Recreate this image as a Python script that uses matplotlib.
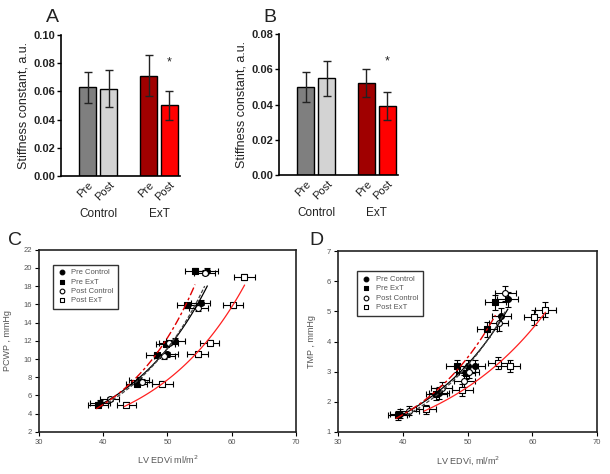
import numpy as np
import matplotlib
matplotlib.use('Agg')
import matplotlib.pyplot as plt

plt.rcParams['font.family'] = ['Liberation Sans', 'DejaVu Sans']

# ---------------- data ----------------
bar_groups = ['Control', 'ExT']
bar_phases = ['Pre', 'Post', 'Pre', 'Post']
bar_colors = ['#7f7f7f', '#d3d3d3', '#a00000', '#ff0000']

a_means = [0.063, 0.062, 0.071, 0.050]
a_errs = [0.011, 0.013, 0.0145, 0.0105]
b_means = [0.050, 0.055, 0.052, 0.039]
b_errs = [0.0085, 0.010, 0.008, 0.008]

series_names = ['Pre Control', 'Pre ExT', 'Post Control', 'Post ExT']

# Panel C (PCWP)
c_pre_ctrl_x = [39.5, 45.6, 50.0, 51.2, 55.2, 56.2]
c_pre_ctrl_y = [5.2, 7.7, 10.5, 12.0, 16.2, 19.7]
c_pre_ext_x = [39.2, 45.2, 48.3, 49.7, 53.0, 54.3]
c_pre_ext_y = [5.0, 7.3, 10.4, 11.7, 15.9, 19.7]
c_post_ctrl_x = [41.0, 46.0, 49.5, 50.2, 54.8, 55.8]
c_post_ctrl_y = [5.6, 7.5, 10.3, 11.8, 15.6, 19.5]
c_post_ext_x = [43.6, 49.2, 54.7, 56.6, 60.2, 62.0]
c_post_ext_y = [5.0, 7.3, 10.5, 11.8, 15.9, 19.0]
c_xerr = [1.5, 1.6, 1.6, 1.5, 1.5, 1.6]
c_yerr = [0.25, 0.3, 0.3, 0.3, 0.3, 0.3]

# Panel D (TMP)
d_pre_ctrl_x = [39.5, 45.6, 50.0, 51.2, 55.2, 56.2]
d_pre_ctrl_y = [1.6, 2.3, 3.2, 3.2, 4.85, 5.4]
d_pre_ext_x = [39.2, 45.2, 48.3, 49.7, 53.0, 54.3]
d_pre_ext_y = [1.55, 2.25, 3.2, 2.95, 4.4, 5.3]
d_post_ctrl_x = [41.0, 46.0, 49.5, 50.2, 54.8, 55.8]
d_post_ctrl_y = [1.7, 2.45, 2.7, 3.0, 4.6, 5.6]
d_post_ext_x = [43.6, 49.2, 54.7, 56.6, 60.2, 62.0]
d_post_ext_y = [1.75, 2.4, 3.3, 3.2, 4.8, 5.05]
d_xerr = [1.5, 1.6, 1.6, 1.5, 1.5, 1.6]
d_yerr = [0.15, 0.2, 0.2, 0.2, 0.25, 0.25]

# ---------------- figure ----------------
fig = plt.figure(figsize=(6.1, 4.74), dpi=100)

bar_pos = [1.42, 2.54, 4.64, 5.74]
bar_w = 0.9


def bar_panel(rect, means, errs, ymax, yticks, star_y, letter, letter_xy):
    ax = fig.add_axes(rect)
    ax.bar(bar_pos, means, width=bar_w, color=bar_colors, edgecolor='black',
           linewidth=1.0, zorder=2)
    ax.errorbar(bar_pos, means, yerr=errs, fmt='none', ecolor='#222222',
                elinewidth=1.0, capsize=3, capthick=1.0, zorder=3)
    ax.set_xlim(0, 6.3)
    ax.set_ylim(0, ymax)
    ax.set_yticks(yticks)
    ax.set_yticklabels([f'{t:.2f}' for t in yticks], fontsize=8,
                       fontweight='bold', color='#222222')
    ax.spines['top'].set_visible(False)
    ax.spines['right'].set_visible(False)
    ax.spines['left'].set_linewidth(1.2)
    ax.spines['bottom'].set_linewidth(1.2)
    ax.tick_params(axis='y', length=3, width=1, pad=1)
    ax.set_xticks(bar_pos)
    ax.set_xticklabels(bar_phases, rotation=45, ha='right',
                       rotation_mode='anchor', fontsize=8, color='#222222')
    ax.tick_params(axis='x', length=0, pad=3)
    ax.set_ylabel('Stiffness constant, a.u.', fontsize=9, color='#222222',
                  labelpad=3)
    for g, cx in zip(bar_groups, [(bar_pos[0] + bar_pos[1]) / 2,
                                  (bar_pos[2] + bar_pos[3]) / 2]):
        ax.text(cx, -0.27, g, transform=ax.get_xaxis_transform(),
                ha='center', va='center', fontsize=8.5, color='#222222')
    ax.text(bar_pos[3], star_y, '*', ha='center', va='center', fontsize=9,
            color='#222222')
    fig.text(letter_xy[0], letter_xy[1], letter, fontsize=14,
             ha='center', va='center', color='#222222')
    return ax


bar_panel([0.100, 0.629, 0.195, 0.297], a_means, a_errs, 0.10,
          [0.00, 0.02, 0.04, 0.06, 0.08, 0.10], 0.0805, 'A',
          (52 / 610, 1 - 17 / 474))
bar_panel([0.457, 0.631, 0.195, 0.297], b_means, b_errs, 0.08,
          [0.00, 0.02, 0.04, 0.06, 0.08], 0.0645, 'B',
          (270 / 610, 1 - 17 / 474))

markers = ['o', 's', 'o', 's']
faces = ['black', 'black', 'white', 'white']
fit_styles = [dict(color='black', linestyle='-', lw=0.9),
              dict(color='#e00000', linestyle=(0, (6, 2, 2, 2)), lw=1.0),
              dict(color='#444444', linestyle=(0, (3, 1.5)), lw=0.9),
              dict(color='#ff2020', linestyle='-', lw=0.9)]


def scatter_panel(rect, xs, ys, xerr, yerr, ylim, yticks, ylabel, xlabel,
                  letter, letter_xy, legend_rect):
    ax = fig.add_axes(rect)
    # fits (exponential, fitted from the data)
    for i in [0, 2, 1, 3]:
        x = np.asarray(xs[i]); y = np.asarray(ys[i])
        b, a = np.polyfit(x, np.log(y), 1)
        xx = np.linspace(x.min() - 0.3, x.max(), 100)
        ax.plot(xx, np.exp(a + b * xx), zorder=4, **fit_styles[i])
    handles = []
    for i in range(4):
        ax.errorbar(xs[i], ys[i], xerr=xerr, yerr=yerr, fmt='none',
                    ecolor='black', elinewidth=0.8, capsize=2.2,
                    capthick=0.8, zorder=2)
        h = ax.scatter(xs[i], ys[i], marker=markers[i], s=18,
                       facecolor=faces[i], edgecolor='black', linewidth=0.8,
                       zorder=3)
        handles.append(h)
    ax.set_xlim(30, 70)
    ax.set_ylim(*ylim)
    ax.set_xticks([30, 40, 50, 60, 70])
    ax.set_yticks(yticks)
    ax.tick_params(labelsize=5.5, labelcolor='#555555', length=3, width=0.8,
                   pad=2)
    for s in ax.spines.values():
        s.set_linewidth(1.2)
        s.set_color('#222222')
    ax.set_xlabel(xlabel, fontsize=6.5, color='#555555', labelpad=6)
    ax.set_ylabel(ylabel, fontsize=6.5, color='#555555', labelpad=8)
    leg = ax.legend(handles, series_names, loc='upper left',
                    bbox_to_anchor=legend_rect, fontsize=5.5,
                    frameon=True, fancybox=False, edgecolor='black',
                    handletextpad=0.8, borderpad=0.6, labelspacing=0.25,
                    markerscale=0.8, handlelength=1.0)
    leg.get_frame().set_linewidth(1.0)
    for t in leg.get_texts():
        t.set_color('#555555')
    fig.text(letter_xy[0], letter_xy[1], letter, fontsize=14,
             ha='center', va='center', color='#222222')
    return ax


scatter_panel([0.064, 0.089, 0.421, 0.384],
              [c_pre_ctrl_x, c_pre_ext_x, c_post_ctrl_x, c_post_ext_x],
              [c_pre_ctrl_y, c_pre_ext_y, c_post_ctrl_y, c_post_ext_y],
              c_xerr, c_yerr, (2, 22), list(range(2, 23, 2)),
              'PCWP , mmHg', 'LV EDVi ml/m$^2$', 'C',
              (15 / 610, 1 - 240 / 474), (0.04, 0.94))
scatter_panel([0.554, 0.089, 0.425, 0.381],
              [d_pre_ctrl_x, d_pre_ext_x, d_post_ctrl_x, d_post_ext_x],
              [d_pre_ctrl_y, d_pre_ext_y, d_post_ctrl_y, d_post_ext_y],
              d_xerr, d_yerr, (1, 7), list(range(1, 8)),
              'TMP , mmHg', 'LV EDVi, ml/m$^2$', 'D',
              (316 / 610, 1 - 240 / 474), (0.06, 0.91))

fig.savefig('out.png', dpi=100)
